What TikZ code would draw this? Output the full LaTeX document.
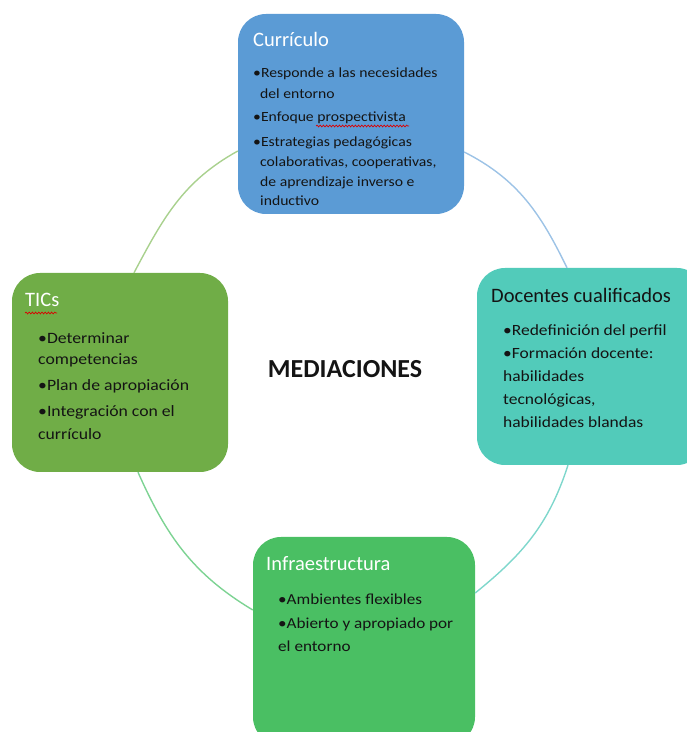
\documentclass[tikz,border=0pt]{standalone}
\usepackage{fontspec}
\setmainfont{Carlito}
\newfontfamily\bodyf[FakeStretch=1.12]{Carlito}
\usetikzlibrary{decorations.pathmorphing}
\definecolor{curc}{RGB}{91,155,213}
\definecolor{docc}{RGB}{82,203,186}
\definecolor{ticc}{RGB}{112,173,71}
\definecolor{infc}{RGB}{74,191,99}
\definecolor{arcTL}{RGB}{169,209,142}
\definecolor{arcTR}{RGB}{157,195,230}
\definecolor{arcBR}{RGB}{127,215,204}
\definecolor{arcBL}{RGB}{125,211,147}
\definecolor{txt}{RGB}{20,20,20}
\tikzset{
  box/.style={rounded corners=28pt, draw=none, inner sep=0pt},
  ttl/.style={anchor=base west, inner sep=0pt, font=\fontsize{20.5}{24}\selectfont},
  ln/.style={anchor=base west, inner sep=0pt, text=txt},
  arcline/.style={line width=1.4pt},
  spell/.style={red!85!black, line width=0.7pt, decorate, decoration={snake, amplitude=0.9pt, segment length=3.2pt}}
}
\begin{document}
\begin{tikzpicture}[x=1pt,y=1pt]
\useasboundingbox (0,0) rectangle (687,732);
% boxes
\node[box, fill=curc, minimum width=226pt, minimum height=200pt] (cur) at (351,618) {};
\node[box, fill=docc, minimum width=228pt, minimum height=197pt] (doc) at (591,365.5) {};
\node[box, fill=ticc, minimum width=216pt, minimum height=199pt] (tic) at (120,359.5) {};
\node[box, fill=infc, minimum width=222pt, minimum height=208pt] (inf) at (364,91) {};
% arcs
\draw[arcline, arcTL] ([xshift=14pt]tic.north) to[out=62,in=209] ([yshift=-37pt]cur.west);
\draw[arcline, arcTR] ([yshift=-38pt]cur.east) to[out=-27,in=116] ([xshift=-24pt]doc.north);
\draw[arcline, arcBR] ([xshift=-23pt]doc.south) to[out=-108,in=39] ([yshift=48pt]inf.east);
\draw[arcline, arcBL] ([xshift=18pt]tic.south) to[out=-66,in=149] ([yshift=31pt]inf.west);
% titles
\node[ttl, text=white] (curt) at (253,685) {Currículo};
\node[ttl, text=txt] (doct) at (491,429) {Docentes cualificados};
\node[ttl, text=white] (tict) at (25,425) {TICs};
\node[ttl, text=white] (inft) at (266,161) {Infraestructura};
% Curriculo body
\foreach \t/\x/\y [count=\i] in {{•Responde a las necesidades}/253/654, {del entorno}/260/633, {•Enfoque prospectivista}/253/610, {•Estrategias pedagógicas}/253/585, {colaborativas, cooperativas,}/260/565, {de aprendizaje inverso e}/260/545, {inductivo}/260/526}
  \node[ln, font=\bodyf\fontsize{14}{17}\selectfont] (c\i) at (\x,\y) {\t};
% Docentes body
\foreach \t/\x/\y [count=\i] in {{•Redefinición del perfil}/503/396, {•Formación docente:}/503/373, {habilidades}/503/350, {tecnológicas,}/503/327, {habilidades blandas}/503/304}
  \node[ln, font=\bodyf\fontsize{15.6}{18}\selectfont] (d\i) at (\x,\y) {\t};
% TICs body
\foreach \t/\x/\y [count=\i] in {{•Determinar}/38/388, {competencias}/38/367, {•Plan de apropiación}/38/341, {•Integración con el}/38/315, {currículo}/38/292}
  \node[ln, font=\bodyf\fontsize{15.8}{18}\selectfont] (t\i) at (\x,\y) {\t};
% Infraestructura body
\foreach \t/\x/\y [count=\i] in {{•Ambientes flexibles}/278/127, {•Abierto y apropiado por}/278/103, {el entorno}/278/80}
  \node[ln, font=\bodyf\fontsize{15.3}{18}\selectfont] (n\i) at (\x,\y) {\t};
% spell marks
\draw[spell] (316,606) -- (409,606);
\draw[spell] (25,419) -- (57,419);
% centre label
\node[font=\bfseries\fontsize{26}{30}\selectfont, text=txt, anchor=base, inner sep=0pt] (med) at (345,354) {MEDIACIONES};
\end{tikzpicture}
\end{document}
